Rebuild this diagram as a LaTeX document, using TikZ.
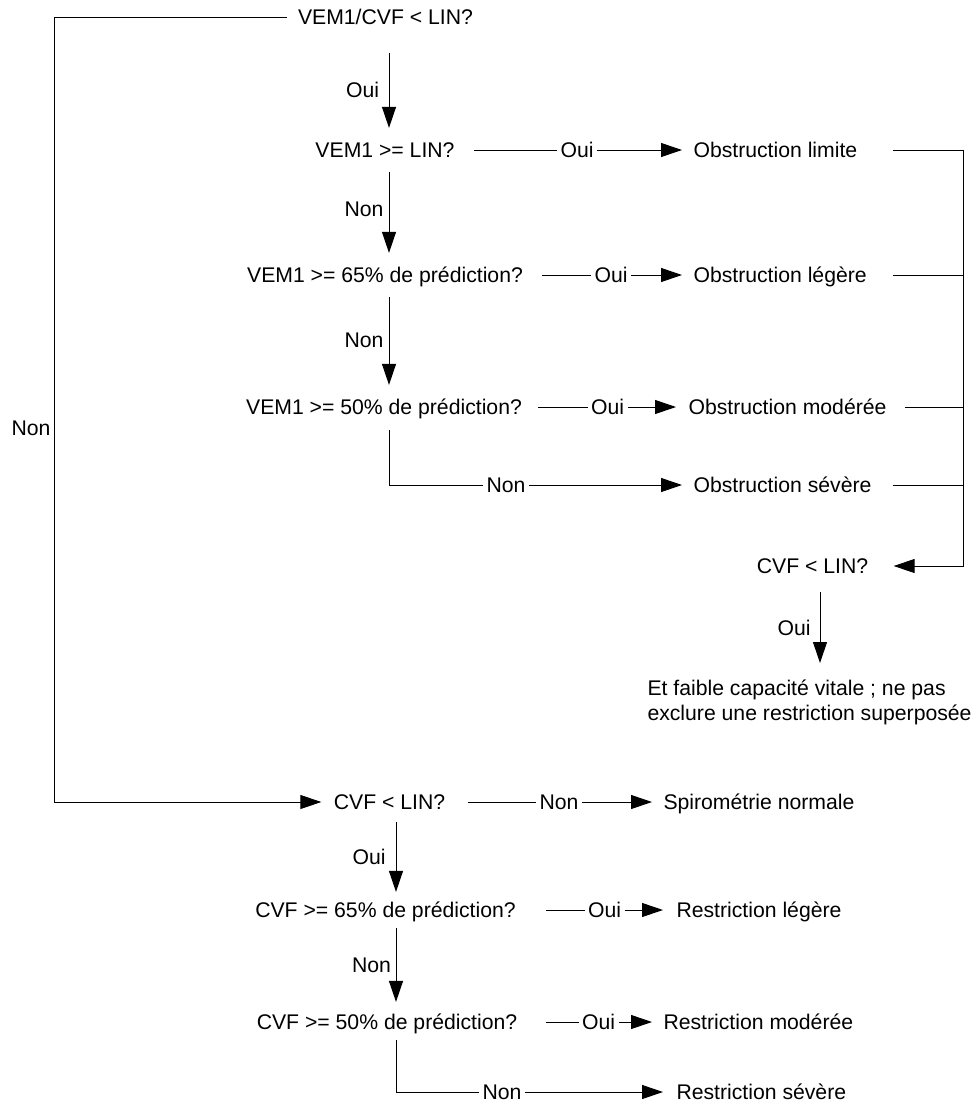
\documentclass[tikz,border=0pt]{standalone}
\usepackage{fontspec}
\setmainfont{Liberation Sans}
\usetikzlibrary{arrows.meta}

\tikzset{
  txt/.style={inner sep=0pt, text height=15.2pt, text depth=0pt},
  fl/.style={-{Triangle[length=21pt,width=14pt]}},
}

\begin{document}
\begin{tikzpicture}[x=1pt, y=-1pt, line width=1pt,
  font=\fontsize{21.2}{25}\selectfont, every node/.style={txt}]
\useasboundingbox (0,0) rectangle (973,1103);

% obstruction
\node (vc) at (385.5,17) {VEM1/CVF < LIN?};
\node (ouiA) at (362.5,90) {Oui};
\node (lin) at (385,150) {VEM1 >= LIN?};
\node (ouiB) at (577,150) {Oui};
\node[anchor=west] (limite) at (693,150) {Obstruction limite};
\node (nonB) at (364,209) {Non};
\node (p65) at (385,275) {VEM1 >= 65\% de prédiction?};
\node (ouiC) at (611,275) {Oui};
\node[anchor=west] (legere) at (693,275) {Obstruction légère};
\node (nonC) at (364,340) {Non};
\node (p50) at (384,407) {VEM1 >= 50\% de prédiction?};
\node (ouiD) at (607.5,407) {Oui};
\node[anchor=west] (moderee) at (688,407) {Obstruction modérée};
\node (nonD) at (506,485) {Non};
\node[anchor=west] (severe) at (693,485) {Obstruction sévère};
\node (cvfo) at (812.5,566) {CVF < LIN?};
\node (ouiR) at (794,628) {Oui};
\node[anchor=north west, align=left, text height={}, text depth={}] (note) at (647,679)
  {Et faible capacité vitale ; ne pas\\exclure une restriction superposée};
\node (nonA) at (31,428) {Non};

% restriction
\node (cvf) at (389.5,802) {CVF < LIN?};
\node (nonF) at (559,802) {Non};
\node[anchor=west] (normale) at (663,802) {Spirométrie normale};
\node (ouiF) at (369,857) {Oui};
\node (r65) at (385.5,910) {CVF >= 65\% de prédiction?};
\node (ouiG) at (604.5,910) {Oui};
\node[anchor=west] (rlegere) at (676,910) {Restriction légère};
\node (nonG) at (371.5,965) {Non};
\node (r50) at (387,1022) {CVF >= 50\% de prédiction?};
\node (ouiH) at (598.5,1022) {Oui};
\node[anchor=west] (rmoderee) at (663,1022) {Restriction modérée};
\node (nonH) at (502,1092) {Non};
\node[anchor=west] (rsevere) at (676,1092) {Restriction sévère};

% liens
\coordinate (coin) at (54,17);
\draw[fl, shorten <=11pt, shorten >=12pt] (vc.west) -- (coin) |- (cvf.west);
\draw[fl, shorten <=28pt, shorten >=14pt] ([xshift=3.5pt]vc.south) -- ([xshift=4pt]lin.north);
\draw[shorten <=19pt, shorten >=3pt] (lin.east) -- (ouiB.west);
\draw[fl, shorten <=3pt, shorten >=11pt] (ouiB.east) -- (limite.west);
\draw[fl, shorten <=14pt, shorten >=14pt] ([xshift=4pt]lin.south) -- ([xshift=4pt]p65.north);
\draw[shorten <=19pt, shorten >=3pt] (p65.east) -- (ouiC.west);
\draw[fl, shorten <=3pt, shorten >=11pt] (ouiC.east) -- (legere.west);
\draw[fl, shorten <=14pt, shorten >=14pt] ([xshift=4pt]p65.south) -- ([xshift=5pt]p50.north);
\draw[shorten <=16pt, shorten >=3pt] (p50.east) -- (ouiD.west);
\draw[fl, shorten <=3pt, shorten >=12pt] (ouiD.east) -- (moderee.west);
\draw[shorten <=15pt, shorten >=3pt] ([xshift=5pt]p50.south) |- (nonD.west);
\draw[fl, shorten <=3pt, shorten >=11pt] (nonD.east) -- (severe.west);

\coordinate (droite) at (963,150);
\draw[fl, shorten <=35pt, shorten >=25pt] (limite.east) -- (droite) |- (cvfo.east);
\draw[shorten <=26pt] (legere.east) -- (legere.east -| droite);
\draw[shorten <=18pt] (moderee.east) -- (moderee.east -| droite);
\draw[shorten <=21pt] (severe.east) -- (severe.east -| droite);
\draw[fl, shorten <=18pt, shorten >=16pt] ([xshift=7.5pt]cvfo.south) -- ([xshift=7.5pt]cvfo.south |- note.north);

\draw[shorten <=22pt, shorten >=3pt] (cvf.east) -- (nonF.west);
\draw[fl, shorten <=3pt, shorten >=11pt] (nonF.east) -- (normale.west);
\draw[fl, shorten <=12pt, shorten >=10pt] ([xshift=6.5pt]cvf.south) -- ([xshift=10.5pt]r65.north);
\draw[shorten <=30pt, shorten >=3pt] (r65.east) -- (ouiG.west);
\draw[fl, shorten <=3pt, shorten >=13pt] (ouiG.east) -- (rlegere.west);
\draw[fl, shorten <=10pt, shorten >=12pt] ([xshift=10.5pt]r65.south) -- ([xshift=9pt]r50.north);
\draw[shorten <=28pt, shorten >=3pt] (r50.east) -- (ouiH.west);
\draw[fl, shorten <=3pt, shorten >=11pt] (ouiH.east) -- (rmoderee.west);
\draw[shorten <=10pt, shorten >=3pt] ([xshift=9pt]r50.south) |- (nonH.west);
\draw[fl, shorten <=3pt, shorten >=13pt] (nonH.east) -- (rsevere.west);
\end{tikzpicture}
\end{document}
